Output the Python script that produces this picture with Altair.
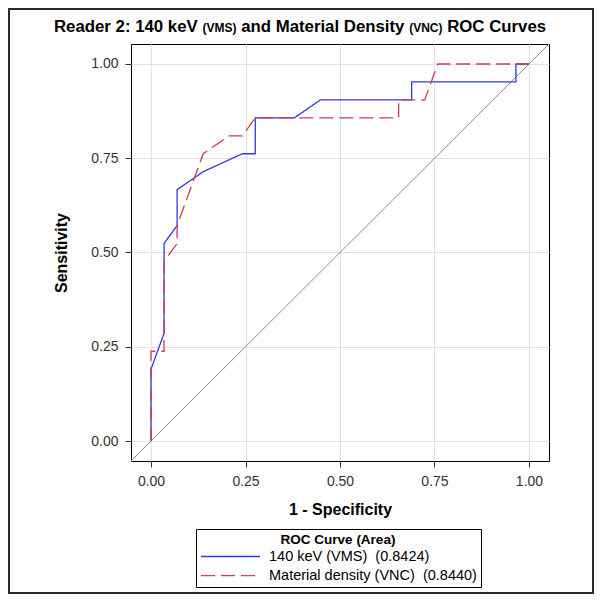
import altair as alt
import pandas as pd

# ---- data (fpr numerators over 29 negatives, tpr over 21 positives)
vms_label = "140 keV (VMS)\u00a0\u00a0(0.8424)"
vnc_label = "Material density (VNC)\u00a0\u00a0(0.8440)"

vms_fpr_n = [0, 0, 1, 1, 2, 2, 4, 7, 8, 8, 11, 13, 20, 20, 28, 28, 29]
vms_tpr_n = [0, 4, 6, 11, 12, 14, 15, 16, 16, 18, 18, 19, 19, 20, 20, 21, 21]
vnc_fpr_n = [0, 0, 1, 1, 2, 2, 4, 6, 7, 8, 19, 19, 21, 22, 29]
vnc_tpr_n = [0, 5, 5, 10, 11, 12, 16, 17, 17, 18, 18, 19, 19, 21, 21]
N_NEG = 29
N_POS = 21

diag_vals = [-0.053, 1.053]
tick_vals = [0, 0.25, 0.5, 0.75, 1.0]

rows = []
for lab, fn, tn in [(vms_label, vms_fpr_n, vms_tpr_n), (vnc_label, vnc_fpr_n, vnc_tpr_n)]:
    for i, (f, t) in enumerate(zip(fn, tn)):
        rows.append({"series": lab, "fpr": f / N_NEG, "tpr": t / N_POS, "idx": i})
roc_df = pd.DataFrame(rows)
diag_df = pd.DataFrame({"fpr": diag_vals, "tpr": diag_vals})

BLUE = "#3535e8"
RED = "#c8404a"
FONT = "Liberation Sans"

xscale = alt.Scale(domain=[-0.053, 1.053], nice=False, zero=False)
yscale = alt.Scale(domain=[-0.053, 1.053], nice=False, zero=False)

xaxis = alt.Axis(title="1 - Specificity", values=tick_vals, format=".2f",
                 titleY=53.5, titleBaseline="alphabetic")
yaxis = alt.Axis(title="Sensitivity", values=tick_vals, format=".2f",
                 titleX=-65, titleBaseline="alphabetic")

diag = alt.Chart(diag_df).mark_line(color="#8a8a8a", strokeWidth=1, clip=True).encode(
    x=alt.X("fpr:Q", scale=xscale, axis=xaxis),
    y=alt.Y("tpr:Q", scale=yscale, axis=yaxis),
)

curves = alt.Chart(roc_df).mark_line(strokeWidth=1.3, clip=True).encode(
    x=alt.X("fpr:Q", scale=xscale, axis=xaxis),
    y=alt.Y("tpr:Q", scale=yscale, axis=yaxis),
    order="idx:Q",
    color=alt.Color("series:N", title="ROC Curve (Area)",
                    scale=alt.Scale(domain=[vms_label, vnc_label], range=[BLUE, RED]),
                    legend=alt.Legend(orient="none", legendX=65, legendY=485)),
    strokeDash=alt.StrokeDash("series:N", title="ROC Curve (Area)",
                              scale=alt.Scale(domain=[vms_label, vnc_label], range=[[1, 0], [14, 6]]),
                              legend=alt.Legend(orient="none", legendX=65, legendY=485)),
)

one = alt.Data(values=[{"k": 1}])

def piece(txt, x, size):
    return alt.Chart(one).mark_text(text=txt, font=FONT, fontSize=size, fontWeight="bold",
                                    align="left", baseline="alphabetic", color="black").encode(
        x=alt.value(x), y=alt.value(-11.7))

title_layers = [
    piece("Reader 2: 140 keV", -77, 16.8),
    piece("(VMS)", 71.5, 12),
    piece("and Material Density", 110.2, 16.8),
    piece("(VNC)", 278.2, 12),
    piece("ROC Curves", 316.2, 16.8),
]

border = alt.Chart(one).mark_rect(fill=None, stroke="#2a2a2a", strokeWidth=2).encode(
    x=alt.value(-122), x2=alt.value(462), y=alt.value(-35), y2=alt.value(549))

chart = alt.layer(border, diag, curves, *title_layers).properties(
    width=418, height=417,
    autosize=alt.AutoSizeParams(type="none"),
    padding={"left": 123, "top": 36, "right": 45, "bottom": 133},
    background="white",
).configure_view(
    stroke="black", strokeWidth=1,
).configure_axis(
    domain=False,
    grid=True, gridColor="#e2e2e2", gridWidth=1,
    tickColor="#333333", tickSize=6, tickWidth=1,
    labelFont=FONT, labelFontSize=14, labelColor="#333333", labelPadding=7,
    titleFont=FONT, titleFontSize=16, titleFontWeight="bold", titleColor="black",
).configure_legend(
    symbolType="stroke", symbolSize=3481, symbolStrokeWidth=1.3, clipHeight=14,
    labelFont=FONT, labelFontSize=14.5, labelColor="black", labelOffset=8, labelLimit=400,
    titleFont=FONT, titleFontSize=13.5, titleFontWeight="bold", titleColor="black",
    titleAnchor="middle", titleAlign="center", titlePadding=3, titleLimit=400,
    padding=4, rowPadding=4.2, strokeColor="black", strokeWidth=1, fillColor="white",
    cornerRadius=0,
)

chart.save("out.html", embed_options={"renderer": "svg", "actions": False})
